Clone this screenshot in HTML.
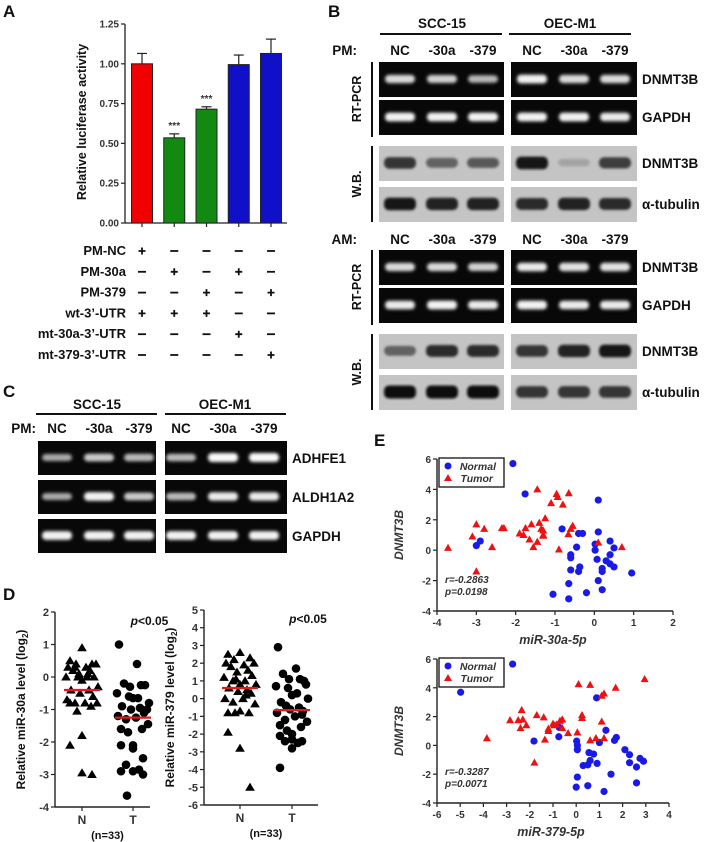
<!DOCTYPE html>
<html><head><meta charset="utf-8">
<style>
html,body{margin:0;padding:0;background:#fff;}
svg{display:block;font-family:"Liberation Sans",sans-serif;font-weight:bold;}
</style></head>
<body>
<svg id="fig" width="709" height="842" viewBox="0 0 709 842" xmlns="http://www.w3.org/2000/svg">
<defs>
<filter id="glow" x="-30%" y="-100%" width="160%" height="300%"><feGaussianBlur stdDeviation="1.6"/></filter>
<filter id="soft" x="-30%" y="-100%" width="160%" height="300%"><feGaussianBlur stdDeviation="1.3"/></filter>
</defs>
<g id="panelA"></g>
<g id="panelB"></g>
<g id="panelC"></g>
<g id="panelD"></g>
<g id="panelE"></g>
</svg>
<script>
// ---------- Panel A data ----------
const aCategories = ["NC","30a","379","mt30a","mt379"];
const aValues = [1.0, 0.535, 0.715, 0.995, 1.065];
const aErrors = [0.065, 0.025, 0.015, 0.06, 0.09];
const aColors = ["#f00000","#128a12","#128a12","#1010c8","#1010c8"];
const aStars = ["","***","***","",""];
const aTicks = [0, 0.25, 0.5, 0.75, 1.0, 1.25];
const aRowLabels = ["PM-NC","PM-30a","PM-379","wt-3\u2019-UTR","mt-30a-3\u2019-UTR","mt-379-3\u2019-UTR"];
const aTable = [["+","-","-","-","-"],["-","+","-","+","-"],["-","-","+","-","+"],["+","+","+","-","-"],["-","-","-","+","-"],["-","-","-","-","+"]];
// ---------- Panel B / C gel intensities ----------
const bPmRt1 = [[0.8,0.75,0.6],[0.95,0.8,0.8]];
const bPmRt2 = [[0.95,0.95,0.95],[0.95,0.95,0.9]];
const bPmWb1 = [[0.8,0.55,0.6],[0.95,0.2,0.75]];
const bPmWb2 = [[0.95,0.9,0.9],[0.85,0.9,0.85]];
const bAmRt1 = [[0.8,0.8,0.75],[0.9,0.85,0.85]];
const bAmRt2 = [[0.9,0.95,0.9],[0.95,0.9,0.9]];
const bAmWb1 = [[0.55,0.85,0.85],[0.8,0.9,0.95]];
const bAmWb2 = [[1.0,1.0,1.0],[0.8,0.8,0.8]];
const cRow1 = [[0.5,0.7,0.6],[0.6,1.0,1.0]];
const cRow2 = [[0.5,0.95,0.7],[0.6,0.9,0.9]];
const cRow3 = [[0.95,0.95,0.95],[0.95,0.95,0.95]];
// ---------- Panel D data ----------
const d30aN = [0.9,0.5,0.4,0.4,0.4,0.3,0.3,0.2,0.2,0.1,0,0,0,0,-0.1,-0.3,-0.4,-0.4,-0.5,-0.6,-0.7,-0.8,-0.8,-0.8,-0.8,-0.9,-1.05,-1.8,-2.1,-2.95,-3.0,0.3,0.1];
const d30aT = [1.0,0.4,-0.2,-0.25,-0.3,-0.25,-0.5,-0.6,-0.65,-0.65,-0.8,-0.9,-0.95,-1.0,-1.1,-1.2,-1.25,-1.3,-1.45,-1.6,-1.6,-1.7,-2.1,-2.1,-2.2,-2.5,-2.7,-2.85,-2.9,-2.9,-3.0,-3.65,-1.0];
const d30aMeans = [-0.4, -1.25];
const d379N = [2.6,2.5,2.3,2.2,2.0,2.0,1.9,1.8,1.6,1.5,1.3,1.2,1.1,1.0,0.8,0.8,0.6,0.5,0.4,0.3,0.0,0.0,-0.2,-0.3,-0.8,-0.8,-0.8,-0.7,-1.9,-2.8,-5.0,1.0,0.2];
const d379T = [2.9,1.7,1.4,1.1,1.1,1.0,0.7,0.6,0.3,0.2,0.0,-0.2,-0.5,-0.6,-0.7,-0.8,-1.0,-1.2,-1.3,-1.5,-1.6,-1.8,-2.0,-2.1,-2.3,-2.4,-2.4,-2.5,-2.8,-3.9,-0.9,-0.4,0.8];
const d379Means = [0.6, -0.65];
const dTicks30a = [2,1,0,-1,-2,-3,-4];
const dTicks379 = [5,4,3,2,1,0,-1,-2,-3,-4,-5,-6];
// ---------- Panel E data ----------
const e30aNormalX = [-2.07,-1.76,0.1,-0.82,-0.4,-0.3,0.1,-3,-2.9,-0.45,0.02,0.4,0.5,0.02,-0.6,-0.6,0.4,0.07,0.3,0.4,0.5,0.2,0.2,-0.37,-0.4,-0.6,0.95,0.1,-0.65,-1.05,-0.2,0.2,-0.65];
const e30aNormalY = [5.7,3.7,3.3,1.4,1.1,1.1,1.2,0.3,0.6,0.2,0.4,0.6,0.15,0.0,-0.3,-0.5,-0.3,-0.6,-0.7,-0.9,-1.1,-1.2,-1.4,-1.1,-1.4,-1.3,-1.5,-2.0,-2.2,-2.9,-2.8,-2.6,-3.2];
const e30aTumorX = [-3.72,-3.1,-3.0,-2.8,-2.6,-3.0,-2.35,-2.3,-1.9,-1.8,-1.75,-1.65,-1.6,-1.55,-1.45,-1.4,-1.35,-1.3,-1.3,-1.25,-1.45,-1.1,-0.96,-0.93,-0.8,-0.65,-0.55,-0.6,-0.66,-0.9,0.1,0.7,-1.3];
const e30aTumorY = [0.15,0.9,1.7,1.4,0.2,-1.4,1.45,1.45,1.1,1.0,1.45,0.7,1.7,0.2,0.55,1.8,1.4,1.3,0.95,2.1,4.0,3.1,3.7,3.5,3.0,3.75,1.6,1.4,1.05,0.05,0.5,0.2,1.0];
const e379NormalX = [-2.74,-4.98,0.88,-0.73,-1.82,-0.75,1.28,1.73,1.65,0.02,0.05,0.05,1.0,0.55,0.75,2.1,2.3,0.6,0.9,0.3,0.5,2.3,2.75,2.6,2.9,1.5,0.05,0.0,0.5,2.6,1.2];
const e379NormalY = [5.65,3.69,3.3,1.25,0.3,0.6,1.05,0.55,0.35,0.3,0.0,-0.3,0.2,-0.5,-0.6,-0.3,-0.65,-1.05,-1.25,-1.4,-1.35,-1.2,-0.9,-1.5,-1.1,-2.0,-2.2,-2.9,-2.8,-2.6,-3.2];
const e379TumorX = [2.95,0.1,0.6,1.7,1.1,1.2,-2.35,-2.85,-2.5,-2.3,-2.4,-2.15,-1.7,-1.4,-1.2,-1.2,-0.95,-0.85,-0.7,-0.6,-0.6,-0.35,0.05,0.25,0.25,1.1,-1.35,-3.85,0.6,0.85,1.2,-1.8,-1.0];
const e379TumorY = [4.6,4.25,4.2,4.0,3.45,3.6,2.45,1.75,1.75,1.8,1.2,1.4,2.1,1.95,1.15,1.0,1.4,1.45,1.7,1.8,1.2,0.85,0.9,2.1,1.9,1.65,0.4,0.5,0.35,0.5,0.5,-1.2,1.5];
const eYTicks = [6,4,2,0,-2,-4];
const eXTicks30a = [-4,-3,-2,-1,0,1,2];
const eXTicks379 = [-6,-5,-4,-3,-2,-1,0,1,2,3,4];

const NS = "http://www.w3.org/2000/svg";
function mk(parent, tag, attrs, text){
  const e = document.createElementNS(NS, tag);
  for (const k in attrs) e.setAttribute(k, attrs[k]);
  if (text !== undefined) e.textContent = text;
  parent.appendChild(e);
  return e;
}
function txt(parent, x, y, s, size, anchor, extra){
  const a = {x:x, y:y, "font-size":size, "text-anchor":anchor||"start", fill:"#111"};
  if (extra) for (const k in extra) a[k]=extra[k];
  return mk(parent, "text", a, s);
}

// ================= PANEL A =================
(function(){
  const g = document.getElementById("panelA");
  const lbl = txt(g, 3, 17, "A", 17);
  
  
  const x0 = 125, x1 = 287, yBase = 223, yTop = 24;
  const yA = v => yBase - (v/1.25)*(yBase-yTop);
  const xCenters = [142,173,206,238,271];
  const xA = i => xCenters[0] + i*((xCenters[4]-xCenters[0])/(aCategories.length-1));
  const ax = mk(g, "g", {});
  
  
  mk(ax, "line", {x1:x0, y1:yTop, x2:x0, y2:yBase, stroke:"#222", "stroke-width":1.3});
  aTicks.forEach(t=>{
    mk(ax, "line", {x1:x0-4, y1:yA(t), x2:x0, y2:yA(t), stroke:"#222", "stroke-width":1.2});
    txt(ax, x0-6, yA(t)+3.5, t.toFixed(2), 10, "end", {fill:"#333"});
  });
  const xa = mk(g, "line", {x1:x0, y1:yBase, x2:x1, y2:yBase, stroke:"#222", "stroke-width":1.3});
  
  
  const yt = txt(g, 0, 0, "Relative luciferase activity", 12.5, "middle", {transform:"translate(86,122) rotate(-90)"});
  
  
  aValues.forEach((v,i)=>{
    const cx = xA(i), w = 21;
    const e = aErrors[i];
    mk(g, "line", {x1:cx, y1:yA(v), x2:cx, y2:yA(v+e), stroke:"#222", "stroke-width":1.2});
    mk(g, "line", {x1:cx-5, y1:yA(v+e), x2:cx+5, y2:yA(v+e), stroke:"#222", "stroke-width":1.2});
    const r = mk(g, "rect", {x:cx-w/2, y:yA(v), width:w, height:yBase-yA(v), fill:aColors[i], stroke:"#222", "stroke-width":1});
    
    
    mk(g, "line", {x1:cx, y1:yBase, x2:cx, y2:yBase+4, stroke:"#222", "stroke-width":1.2});
    if (aStars[i]) {
      const s = txt(g, cx, yA(v+e)-5, aStars[i], 10, "middle", {fill:"#333"});
      
      
    }
  });
  aRowLabels.forEach((l,r)=>{
    const y = 255 + r*20.8;
    const t = txt(g, 126, y, l, 13, "end");
    
    
    aTable[r].forEach((s,i)=>{
      const cx = xA(i);
      if (s==="+") {
        mk(g, "path", {d:`M${cx-3.5},${y-4}h7M${cx},${y-7.5}v7`, stroke:"#111", "stroke-width":1.8});
      } else {
        mk(g, "line", {x1:cx-4, y1:y-4, x2:cx+4, y2:y-4, stroke:"#111", "stroke-width":1.8});
      }
    });
  });
})();

// ---------- gel helpers ----------
function gel(g, x, y, w, h, lanes, vals, type, name){
  const gg = mk(g, "g", {});
  
  
  const bg = type==="rt" ? "#080808" : "#c4c4c4";
  mk(gg, "rect", {x:x, y:y, width:w, height:h, fill:bg});
  vals.forEach((v,i)=>{
    const cx = lanes[i];
    if (type==="rt") {
      const c = Math.round(90+160*v);
      mk(gg, "rect", {x:cx-15, y:y+h/2-3-2*v, width:30, height:5+4*v, rx:4, fill:`rgb(${c},${c},${c})`, filter:"url(#glow)"});
    } else {
      const c = Math.round(200-185*v);
      mk(gg, "rect", {x:cx-16, y:y+h/2-4-3*v, width:32, height:6+7*v, rx:5, fill:`rgb(${c},${c},${c})`, filter:"url(#soft)"});
    }
  });
}

// ================= PANEL B =================
(function(){
  const g = document.getElementById("panelB");
  const L = txt(g, 328, 17, "B", 17);
  
  
  const lanesS = [400,442,483], lanesO = [532,574,615];
  [["SCC-15",442,380,502],["OEC-M1",570,509,631]].forEach(c=>{
    const t = txt(g, c[1], 28, c[0], 13.5, "middle");
    
    
    mk(g, "line", {x1:c[2], y1:34, x2:c[3], y2:34, stroke:"#111", "stroke-width":2});
  });
  function header(y, lab){
    txt(g, 357, y, lab, 13.5, "end");
    ["NC","-30a","-379"].forEach((s,i)=>{ txt(g, lanesS[i], y, s, 13.5, "middle"); txt(g, lanesO[i], y, s, 13.5, "middle"); });
  }
  header(55, "PM:");
  header(244, "AM:");
  const block = (y0, rt1, rt2, wb1, wb2) => {
    const rows = [[y0,rt1,"rt","DNMT3B"],[y0+38,rt2,"rt","GAPDH"],[y0+84,wb1,"wb","DNMT3B"],[y0+125,wb2,"wb","\u03b1-tubulin"]];
    rows.forEach(r=>{
      gel(g, 379, r[0], 125, 35, lanesS, r[1][0], r[2], "gel-scc15-"+r[3]);
      gel(g, 511, r[0], 126, 35, lanesO, r[1][1], r[2], "gel-oecm1-"+r[3]);
      const t = txt(g, 642, r[0]+22, r[3], 13.5, "start");
      
      
    });
    mk(g, "line", {x1:372, y1:y0, x2:372, y2:y0+75, stroke:"#111", "stroke-width":2});
    mk(g, "line", {x1:372, y1:y0+84, x2:372, y2:y0+160, stroke:"#111", "stroke-width":2});
    txt(g, 0, 0, "RT-PCR", 12.5, "middle", {transform:`translate(361,${y0+37}) rotate(-90)`});
    txt(g, 0, 0, "W.B.", 12.5, "middle", {transform:`translate(361,${y0+122}) rotate(-90)`});
  };
  block(62, bPmRt1, bPmRt2, bPmWb1, bPmWb2);
  block(250, bAmRt1, bAmRt2, bAmWb1, bAmWb2);
})();

// ================= PANEL C =================
(function(){
  const g = document.getElementById("panelC");
  const L = txt(g, 3, 397, "C", 17);
  
  
  [["SCC-15",97,36,157],["OEC-M1",225,165,286]].forEach(c=>{
    txt(g, c[1], 409, c[0], 13.5, "middle");
    mk(g, "line", {x1:c[2], y1:414, x2:c[3], y2:414, stroke:"#111", "stroke-width":2});
  });
  const lanesS=[57,99,139], lanesO=[181,223,264];
  txt(g, 36, 433, "PM:", 13.5, "end");
  ["NC","-30a","-379"].forEach((s,i)=>{ txt(g, lanesS[i], 433, s, 13.5, "middle"); txt(g, lanesO[i], 433, s, 13.5, "middle"); });
  [[441,cRow1,"ADHFE1"],[480,cRow2,"ALDH1A2"],[519,cRow3,"GAPDH"]].forEach(r=>{
    gel(g, 38, r[0], 118, 34, lanesS, r[1][0], "rt", "gel-c-scc15-"+r[2]);
    gel(g, 165, r[0], 122, 34, lanesO, r[1][1], "rt", "gel-c-oecm1-"+r[2]);
    txt(g, 292, r[0]+22, r[2], 13.5, "start");
  });
})();

// ================= PANEL D =================
(function(){
  const g = document.getElementById("panelD");
  const L = txt(g, 3, 600, "D", 17);
  
  
  function tri(p, cx, cy, s, fill){ return mk(p, "path", {d:`M${cx},${cy-s}L${cx+s*1.05},${cy+s*0.75}L${cx-s*1.05},${cy+s*0.75}Z`, fill:fill}); }
  const jit = [0,-12,10,-6,14,-14,4,-9,8,-3,12,-16,-4,5,0,16,-11,7,-2,11,-15,3,-7,15,-12,9,-5,0,-12,0,10,-7,6];
  function plot(opt){
    const {ax, yTopV, yBotV, yTop, yBot, xEnd, xN, xT, N, T, means, ticks, title, name} = opt;
    const gp = mk(g, "g", {});
    
    
    const yS = v => yTop + (yTopV - v)/(yTopV-yBotV)*(yBot-yTop);
    mk(gp, "line", {x1:ax, y1:yTop, x2:ax, y2:yBot, stroke:"#222", "stroke-width":1.4});
    mk(gp, "line", {x1:ax, y1:yBot, x2:xEnd, y2:yBot, stroke:"#222", "stroke-width":1.4});
    ticks.forEach(t=>{
      mk(gp, "line", {x1:ax-4, y1:yS(t), x2:ax, y2:yS(t), stroke:"#222", "stroke-width":1.2});
      txt(gp, ax-6, yS(t)+4, String(t), 11, "end", {fill:"#333"});
    });
    [xN,xT].forEach(x=>mk(gp, "line", {x1:x, y1:yBot, x2:x, y2:yBot+4, stroke:"#222", "stroke-width":1.2}));
    txt(gp, xN, yBot+17, "N", 12, "middle", {fill:"#333"});
    txt(gp, xT, yBot+17, "T", 12, "middle", {fill:"#333"});
    txt(gp, (xN+xT)/2, yBot+32, "(n=33)", 11, "middle");
    const p = txt(gp, (xN+xT)/2+42, yTop+13, "", 12, "middle");
    mk(p, "tspan", {"font-style":"italic"}, "p");
    mk(p, "tspan", {}, "<0.05");
    const yt = txt(gp, 0, 0, "", 12, "middle", {transform:`translate(${ax-30},${(yTop+yBot)/2}) rotate(-90)`});
    mk(yt, "tspan", {}, title+" (log");
    mk(yt, "tspan", {"font-size":8, dy:3}, "2");
    mk(yt, "tspan", {dy:-3}, ")");
    N.forEach((v,i)=>{
      const m = tri(gp, xN + jit[i%jit.length], yS(v), 4.6, "#000");
      
      
    });
    T.forEach((v,i)=>{
      const m = mk(gp, "circle", {cx:xT + jit[(i+5)%jit.length], cy:yS(v), r:4.3, fill:"#000"});
      
      
    });
    [xN,xT].forEach((x,i)=>{
      const ml = mk(gp, "line", {x1:x-18, y1:yS(means[i]), x2:x+18, y2:yS(means[i]), stroke:"#e41a1a", "stroke-width":2.2});
      
      
    });
  }
  plot({ax:55, yTopV:2, yBotV:-4, yTop:612, yBot:807, xEnd:150, xN:82, xT:133, N:d30aN, T:d30aT, means:d30aMeans, ticks:dTicks30a, title:"Relative miR-30a level", name:"d-mir30a-plot"});
  plot({ax:204, yTopV:5, yBotV:-6, yTop:610, yBot:805, xEnd:318, xN:240, xT:292, N:d379N, T:d379T, means:d379Means, ticks:dTicks379, title:"Relative miR-379 level", name:"d-mir379-plot"});
})();

// ================= PANEL E =================
(function(){
  const g = document.getElementById("panelE");
  const L = txt(g, 374, 446, "E", 17);
  
  
  function scatter(o){
    const gp = mk(g, "g", {});
    
    
    const xS = v => o.x0 + (v - o.xMin)/(o.xMax-o.xMin)*(o.x1-o.x0);
    const yS = v => o.yTop + (6 - v)/10*(o.yBot-o.yTop);
    mk(gp, "line", {x1:o.x0, y1:o.yTop, x2:o.x0, y2:o.yBot, stroke:"#222", "stroke-width":1.4});
    mk(gp, "line", {x1:o.x0, y1:o.yBot, x2:o.x1, y2:o.yBot, stroke:"#222", "stroke-width":1.4});
    eYTicks.forEach(t=>{
      mk(gp, "line", {x1:o.x0-4, y1:yS(t), x2:o.x0, y2:yS(t), stroke:"#222", "stroke-width":1.2});
      txt(gp, o.x0-6, yS(t)+4, String(t), 10, "end", {fill:"#333"});
    });
    o.xTicks.forEach(t=>{
      mk(gp, "line", {x1:xS(t), y1:o.yBot, x2:xS(t), y2:o.yBot+4, stroke:"#222", "stroke-width":1.2});
      txt(gp, xS(t), o.yBot+15, String(t), 10, "middle", {fill:"#333"});
    });
    txt(gp, (o.x0+o.x1)/2-2, o.yBot+33, o.xTitle, 12.5, "middle", {"font-style":"italic", fill:"#333"});
    txt(gp, 0, 0, "DNMT3B", 12, "middle", {"font-style":"italic", fill:"#333", transform:`translate(${o.x0-34},${(o.yTop+o.yBot)/2}) rotate(-90)`});
    o.nx.forEach((v,i)=>{
      const c = mk(gp, "circle", {cx:xS(v), cy:yS(o.ny[i]), r:3.6, fill:"#1a1ae6"});
      
      
    });
    o.tx.forEach((v,i)=>{
      const cx = xS(v), cy = yS(o.ty[i]);
      const t = mk(gp, "path", {d:`M${cx},${cy-4.2}L${cx+4},${cy+3}L${cx-4},${cy+3}Z`, fill:"#ee1111"});
      
      
    });
    const lg = mk(gp, "g", {});
    
    
    mk(lg, "rect", {x:o.x0+2, y:o.yTop-1, width:65, height:29, fill:"#fff", stroke:"#111", "stroke-width":1.3});
    mk(lg, "circle", {cx:o.x0+11, cy:o.yTop+7, r:3.5, fill:"#1a1ae6"});
    mk(lg, "path", {d:`M${o.x0+11},${o.yTop+15}l4,7h-8z`, fill:"#ee1111"});
    txt(lg, o.x0+59, o.yTop+11, "Normal", 10.5, "end", {"font-style":"italic", fill:"#333"});
    txt(lg, o.x0+56, o.yTop+23, "Tumor", 10.5, "end", {"font-style":"italic", fill:"#333"});
    txt(gp, o.x0+8, o.yBot-28, o.r, 10, "start", {"font-style":"italic", fill:"#333"});
    txt(gp, o.x0+8, o.yBot-16, o.p, 10, "start", {"font-style":"italic", fill:"#333"});
  }
  scatter({name:"e-mir30a-scatter", x0:437, x1:673, xMin:-4, xMax:2, yTop:459, yBot:611, xTicks:eXTicks30a, xTitle:"miR-30a-5p", nx:e30aNormalX, ny:e30aNormalY, tx:e30aTumorX, ty:e30aTumorY, r:"r=-0.2863", p:"p=0.0198"});
  scatter({name:"e-mir379-scatter", x0:437, x1:669, xMin:-6, xMax:4, yTop:659, yBot:803, xTicks:eXTicks379, xTitle:"miR-379-5p", nx:e379NormalX, ny:e379NormalY, tx:e379TumorX, ty:e379TumorY, r:"r=-0.3287", p:"p=0.0071"});
})();
</script>
</body></html>
